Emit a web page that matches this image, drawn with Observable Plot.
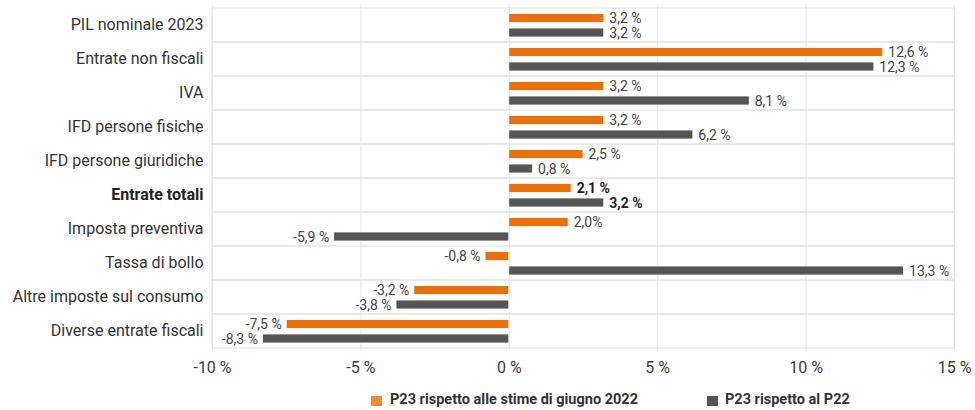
<!DOCTYPE html>
<html><head><meta charset="utf-8">
<script src="https://cdn.jsdelivr.net/npm/d3@7"></script>
<script src="https://cdn.jsdelivr.net/npm/@observablehq/plot@0.6"></script>
<style>
body{margin:0;background:#fff;font-family:Roboto,"Noto Sans",sans-serif;}
#wrap{position:relative;width:975px;height:410px;}
#legend{position:absolute;left:0;top:390px;width:975px;height:20px;font:bold 14.5px Roboto,sans-serif;color:#333;}
.sw{position:absolute;width:11px;height:10px;top:6px;}
.lt{position:absolute;top:1px;white-space:nowrap;}
</style></head>
<body><div id="wrap"><div id="chart"></div>
<div id="legend">
<span class="sw" style="left:371px;background:#F08A38"></span><span class="lt" id="l1" style="left:390px"></span>
<span class="sw" style="left:707px;background:#555"></span><span class="lt" id="l2" style="left:725px"></span>
</div></div>
<script>
const categories = ["PIL nominale 2023","Entrate non fiscali","IVA","IFD persone fisiche","IFD persone giuridiche","Entrate totali","Imposta preventiva","Tassa di bollo","Altre imposte sul consumo","Diverse entrate fiscali"];
const seriesNames = ["P23 rispetto alle stime di giugno 2022","P23 rispetto al P22"];
const valuesJune = [3.2,12.6,3.2,3.2,2.5,2.1,2.0,-0.8,-3.2,-7.5];
const valuesP22 = [3.2,12.3,8.1,6.2,0.8,3.2,-5.9,13.3,-3.8,-8.3];
const labelsJune = ["3,2 %","12,6 %","3,2 %","3,2 %","2,5 %","2,1 %","2,0%","-0,8 %","-3,2 %","-7,5 %"];
const labelsP22 = ["3,2 %","12,3 %","8,1 %","6,2 %","0,8 %","3,2 %","-5,9 %","13,3 %","-3,8 %","-8,3 %"];
const xTicks = [-10,-5,0,5,10,15];
const boldCategory = "Entrate totali";

document.getElementById("l1").textContent = seriesNames[0];
document.getElementById("l2").textContent = seriesNames[1];

const orange = "#EA700B", gray = "#555555";
const june = categories.map((c,i)=>({cat:c, v:valuesJune[i], label:labelsJune[i]}));
const p22 = categories.map((c,i)=>({cat:c, v:valuesP22[i], label:labelsP22[i]}));

function labelMarks(data, dy) {
  const base = {y: "cat", x: "v", text: "label", dy, fontSize: 14, fill: "#444"};
  const groups = [
    [d => d.v >= 0 && d.cat !== boldCategory, {dx: 5, textAnchor: "start"}],
    [d => d.v < 0 && d.cat !== boldCategory, {dx: -5, textAnchor: "end"}],
    [d => d.v >= 0 && d.cat === boldCategory, {dx: 5, textAnchor: "start", fontWeight: "bold", fill: "#222"}],
    [d => d.v < 0 && d.cat === boldCategory, {dx: -5, textAnchor: "end", fontWeight: "bold", fill: "#222"}]
  ];
  return groups.map(([f, o]) => Plot.text(data.filter(f), {...base, ...o}));
}

const chart = Plot.plot({
  width: 975, height: 385,
  marginTop: 5, marginBottom: 34, marginLeft: 212, marginRight: 21,
  style: {fontFamily: "Roboto, sans-serif", fontSize: "16px", color: "#3a3a3a", background: "#fff"},
  x: {domain: [xTicks[0], xTicks[xTicks.length-1]], ticks: xTicks, tickFormat: d => `${d} %`, tickSize: 0, tickPadding: 10, label: null},
  y: {domain: categories, padding: 0, axis: null},
  marks: [
    Plot.gridX(xTicks, {stroke: "#e6e6e6", strokeOpacity: 1}),
    Plot.barX(categories, {y: d => d, x1: xTicks[0], x2: xTicks[xTicks.length-1], fill: "none", stroke: "#e6e6e6", strokeWidth: 1.2}),
    Plot.barX(june, {y: "cat", x: "v", fill: orange, insetTop: 5.5, insetBottom: 19.5, stroke: "#fff", strokeWidth: 0.8}),
    Plot.barX(p22, {y: "cat", x: "v", fill: gray, insetTop: 20, insetBottom: 5, stroke: "#fff", strokeWidth: 0.8}),
    ...labelMarks(june, -6.5),
    ...labelMarks(p22, 8),
    Plot.text(categories.filter(c => c !== boldCategory), {y: d => d, frameAnchor: "left", dx: -9, dy: -1, textAnchor: "end", text: d => d, fontSize: 16, fill: "#333"}),
    Plot.text(categories.filter(c => c === boldCategory), {y: d => d, frameAnchor: "left", dx: -9, dy: -1, textAnchor: "end", text: d => d, fontSize: 16, fill: "#222", fontWeight: "bold"})
  ]
});
document.getElementById("chart").appendChild(chart);
</script></body></html>
